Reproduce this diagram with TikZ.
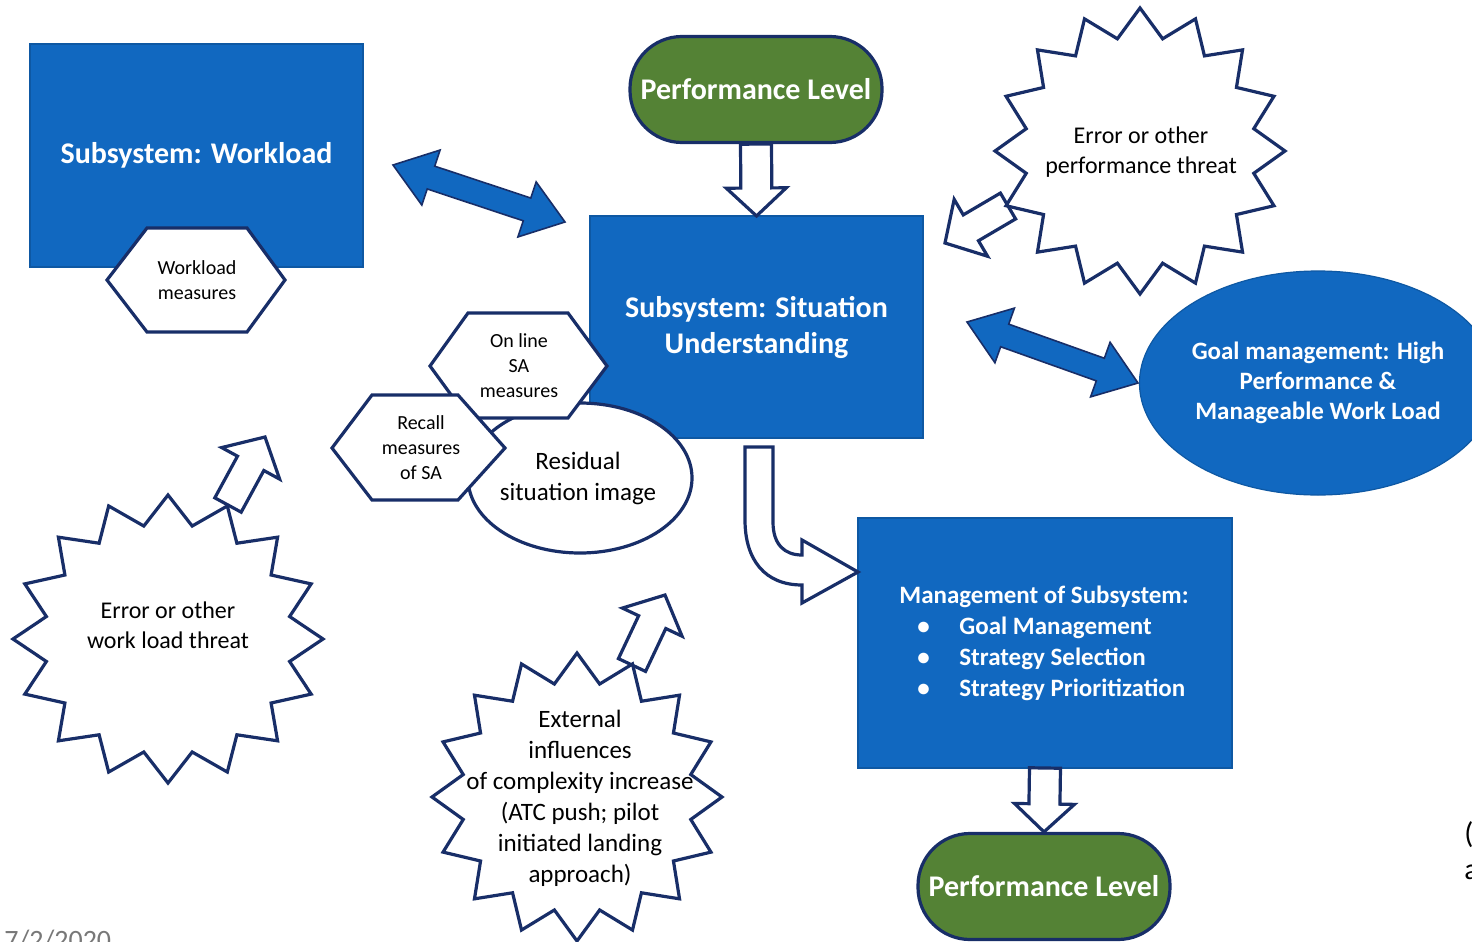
\documentclass[tikz,border=0pt]{standalone}
\usepackage{fontspec}
\setmainfont{Carlito}
\usetikzlibrary{calc,shapes.geometric}
\definecolor{boxblue}{RGB}{17,104,192}
\definecolor{navy}{RGB}{24,46,104}
\definecolor{lgreen}{RGB}{84,130,53}
\definecolor{dategrey}{RGB}{120,120,120}

\newcommand{\hollowarrow}[6]{% style, start, tip, shaft half, head half, head length
  \coordinate (ha) at ($(#3)!#6!(#2)$);
  \draw[#1] ($(#2)!#4!90:(#3)$) -- ($(ha)!#4!-90:(#2)$) -- ($(ha)!#5!-90:(#2)$) -- (#3)
    -- ($(ha)!#5!90:(#2)$) -- ($(ha)!#4!90:(#2)$) -- ($(#2)!#4!-90:(#3)$) -- cycle;
}
\newcommand{\doublearrow}[6]{% style, tip A, tip B, shaft half, head half, head length
  \coordinate (ha) at ($(#3)!#6!(#2)$);
  \coordinate (hb) at ($(#2)!#6!(#3)$);
  \draw[#1] (#2) -- ($(hb)!#5!90:(#3)$) -- ($(hb)!#4!90:(#3)$) -- ($(ha)!#4!-90:(#2)$)
    -- ($(ha)!#5!-90:(#2)$) -- (#3) -- ($(ha)!#5!90:(#2)$) -- ($(ha)!#4!90:(#2)$)
    -- ($(hb)!#4!-90:(#3)$) -- ($(hb)!#5!-90:(#3)$) -- cycle;
}
\newcommand{\burst}[4]{% cx, cy, rx, ry
  \draw[outline] plot[samples=33, domain=0:32, variable=\k]
    ({#1 + (#3)*(1-0.2*mod(\k,2))*cos(\k*11.25)}, {#2 + (#4)*(1-0.2*mod(\k,2))*sin(\k*11.25)}) -- cycle;
}

\begin{document}
\begin{tikzpicture}[x=0.5pt,y=-0.5pt,
  outline/.style={draw=navy, line width=1.6pt, fill=white, line join=miter},
  solidarrow/.style={draw=navy, line width=0.8pt, fill=boxblue, line join=miter},
  bluebox/.style={rectangle, fill=boxblue, draw=boxblue!85!black, line width=0.6pt, inner sep=0pt, outer sep=0pt,
    text=white, font=\bfseries\fontsize{15}{18}\selectfont, align=center},
  plbox/.style={rectangle, rounded corners=26pt, fill=lgreen, draw=navy, line width=1.6pt, inner sep=0pt,
    minimum width=126pt, minimum height=53pt, text=white, font=\bfseries\fontsize{15}{18}\selectfont},
  smalltext/.style={font=\fontsize{10}{12.5}\selectfont, align=center, text=black},
  midtext/.style={font=\fontsize{12.5}{15.5}\selectfont, align=center, text=black}
]
\useasboundingbox (0,0) rectangle (1472,942);
\clip (0,0) rectangle (1472,942);

% ---- main boxes ----
\node[bluebox, minimum width=166.5pt, minimum height=111.5pt] (wl) at (196.5,155.5) {Subsystem: Workload};
\node[bluebox, minimum width=166.5pt, minimum height=111pt] (su) at (756.5,327) {Subsystem: Situation\\Understanding};
\node[bluebox, minimum width=187pt, minimum height=125pt] (mg) at (1045,643) {};
\node[anchor=west, text=white, font=\bfseries\fontsize{12.5}{15.5}\selectfont, align=left, inner sep=0pt] (mgtext) at (899,643)
  {Management of Subsystem:\\
   \hspace*{9pt}\makebox[21pt][l]{\textbullet}Goal Management\\
   \hspace*{9pt}\makebox[21pt][l]{\textbullet}Strategy Selection\\
   \hspace*{9pt}\makebox[21pt][l]{\textbullet}Strategy Prioritization};

\node[plbox] (pl1) at (756,89.5) {Performance Level};
\node[plbox] (pl2) at (1044,886.5) {Performance Level};

\node[ellipse, fill=boxblue, draw=boxblue!85!black, line width=0.6pt, minimum width=165pt, minimum height=112pt,
  inner sep=0pt, text=white, font=\bfseries\fontsize{12.5}{15}\selectfont, align=center] (goal) at (1318,383)
  {Goal management: High\\Performance \&\\Manageable Work Load};

% ---- workload measures hexagon ----
\draw[outline] (107,280) -- (147,228) -- (247,228) -- (285,280) -- (247,332) -- (147,332) -- cycle;
\node[smalltext] (wm) at (197,280) {Workload\\measures};

% ---- residual ellipse and SA hexagons ----
\node[ellipse, draw=navy, line width=1.6pt, fill=white, minimum width=112pt, minimum height=75pt, inner sep=0pt] (res) at (580,478) {};
\node[midtext] (restext) at (578,478) {Residual\\situation image};
\draw[outline] (430,366) -- (468,313) -- (568,313) -- (607,366) -- (568,418) -- (468,418) -- cycle;
\node[smalltext] (onl) at (519,366) {On line\\SA\\measures};
\draw[outline] (332,448) -- (372,395) -- (458,395) -- (505,448) -- (458,500) -- (372,500) -- cycle;
\node[smalltext] (rec) at (421,448) {Recall\\measures\\of SA};

% ---- arrows ----
\hollowarrow{outline}{pl1.south}{su.north}{7.75pt}{15pt}{14pt}
\hollowarrow{outline}{mg.south}{pl2.north}{7.75pt}{15pt}{14pt}

\coordinate (d1a) at (393,165);
\coordinate (d1b) at (565,222);
\doublearrow{solidarrow}{d1a}{d1b}{6pt}{14.5pt}{20pt}
\coordinate (d2a) at (967,322);
\coordinate (d2b) at (1138,383);
\doublearrow{solidarrow}{d2a}{d2b}{6pt}{14.5pt}{20pt}

% curved arrow from SU to management
\draw[outline] (745,447) -- (773,447) -- (773,522) .. controls (773,545) and (785,555) .. (802,555)
  -- (802,540) -- (mg.west |- 0,572) -- (802,603) -- (802,585) .. controls (765,585) and (745,560) .. (745,520) -- cycle;

% threat arrows
\coordinate (t1a) at (1008,206); \coordinate (t1b) at (945,243);
\hollowarrow{outline}{t1a}{t1b}{7.5pt}{16.5pt}{15pt}
\coordinate (t2a) at (228,505); \coordinate (t2b) at (265,437);
\hollowarrow{outline}{t2a}{t2b}{7.5pt}{16.5pt}{15pt}
\coordinate (t3a) at (632,665); \coordinate (t3b) at (665,595);
\hollowarrow{outline}{t3a}{t3b}{7.5pt}{16.5pt}{15pt}

% ---- bursts ----
\burst{1140}{151}{145}{143}
\node[midtext, font=\fontsize{12}{15}\selectfont] (b1) at (1141,152) {Error or other\\performance threat};
\burst{168}{639}{155}{144}
\node[midtext, font=\fontsize{12}{15}\selectfont] (b2) at (168,625) {Error or other\\work load threat};
\burst{577}{797}{145}{144}
\node[midtext] (b3) at (580,798) {External\\influences\\of complexity increase\\(ATC push; pilot\\initiated landing\\approach)};

% ---- clipped slide fragments ----
\node[anchor=north west, inner sep=0pt, text=dategrey, font=\fontsize{14}{16}\selectfont] (date) at (4,930) {7/2/2020};
\node[anchor=west, inner sep=0pt, font=\fontsize{15}{18}\selectfont] (fr1) at (1464,835) {(};
\node[anchor=west, inner sep=0pt, font=\fontsize{15}{18}\selectfont] (fr2) at (1464,872) {a};
\end{tikzpicture}
\end{document}
